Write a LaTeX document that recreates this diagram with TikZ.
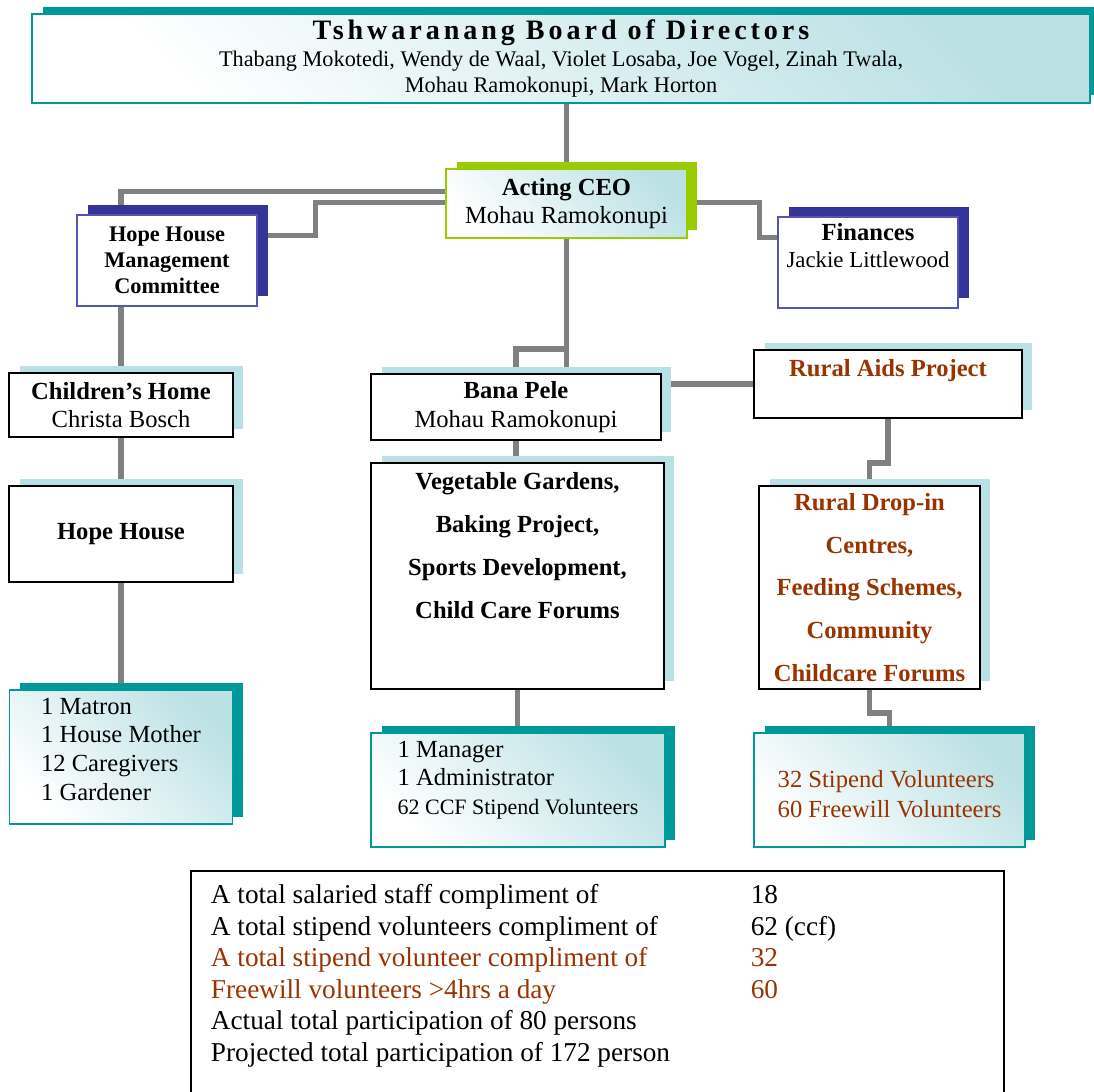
\documentclass[tikz,border=0pt]{standalone}
\usepackage{fontspec}
\setmainfont{Liberation Serif}
\newfontfamily\spacedfont[LetterSpace=14]{Liberation Serif}
\usetikzlibrary{shadows,backgrounds,calc}

\definecolor{tealdark}{RGB}{0,153,153}
\definecolor{tealpale}{RGB}{185,224,228}
\definecolor{gradteal}{RGB}{188,225,229}
\definecolor{navy}{RGB}{51,51,153}
\definecolor{navyline}{RGB}{85,85,175}
\definecolor{lime}{RGB}{153,204,0}
\definecolor{rust}{RGB}{153,51,0}
\definecolor{linkgrey}{RGB}{128,128,128}

% extra depth below the last line, lifts the text inside its box
\newcommand{\padbelow}[1]{\rule[-#1]{0pt}{#1}}

\tikzset{
  box/.style={rectangle, inner sep=0pt, align=center},
  shadowed/.style={drop shadow={shadow xshift=0.21cm, shadow yshift=0.15cm,
      opacity=1, fill=#1}},
  gradfill/.style={top color=gradteal, bottom color=white, shading angle=-45},
  teambox/.style={box, draw=black, line width=1.1pt, fill=white, shadowed=tealpale},
  leadbox/.style={box, draw=navyline, line width=0.9pt, fill=white,
      drop shadow={shadow xshift=0.22cm, shadow yshift=0.2cm, opacity=1, fill=navy}},
  staffbox/.style={box, align=left, draw=tealdark, line width=0.9pt, gradfill,
      shadowed=tealdark},
  ceobox/.style={box, draw=lime, line width=0.9pt, gradfill, shadowed=lime},
  boardbox/.style={box, draw=tealdark, line width=0.9pt, gradfill, shadowed=tealdark},
  sumbox/.style={rectangle, draw=black, line width=1.1pt, inner xsep=0.4cm,
      inner ysep=6.2pt, text depth=112pt},
  link/.style={draw=linkgrey, line width=3pt}
}

\begin{document}
\begin{tikzpicture}[x=0.02cm, y=-0.02cm]
  \useasboundingbox (0,0) rectangle (1094,1091);

  % board and management
  \node[boardbox, minimum width=21.16cm, minimum height=1.78cm,
        font=\fontsize{12.7}{15.3}\selectfont] (board) at (561,58.5)
    {{\spacedfont\bfseries\fontsize{16}{18}\selectfont Tshwaranang Board of Directors}\\
     Thabang Mokotedi, Wendy de Waal, Violet Losaba, Joe Vogel, Zinah Twala,\\
     Mohau Ramokonupi, Mark Horton};
  \node[ceobox, minimum width=4.82cm, minimum height=1.38cm,
        font=\fontsize{14}{16.4}\selectfont] (ceo) at (566.5,203.5)
    {\textbf{Acting CEO}\\ Mohau Ramokonupi};
  \node[leadbox, minimum width=3.6cm, minimum height=1.82cm,
        font=\bfseries\fontsize{12.7}{14.7}\selectfont] (hhmc) at (167,260.5)
    {Hope House\\ Management\\ Committee};
  \node[leadbox, minimum width=3.6cm, minimum height=1.82cm,
        font=\fontsize{13}{15.3}\selectfont] (fin) at (868,262.5)
    {\textbf{\fontsize{14}{15.3}\selectfont Finances}\\ Jackie Littlewood\padbelow{19pt}};

  % children's home column
  \node[teambox, minimum width=4.48cm, minimum height=1.28cm,
        font=\fontsize{14}{16.4}\selectfont] (chome) at (121,405)
    {\textbf{Children's Home}\\ Christa Bosch};
  \node[teambox, minimum width=4.48cm, minimum height=1.92cm,
        font=\bfseries\fontsize{14}{16.4}\selectfont] (hhouse) at (121,534)
    {Hope House};
  \node[staffbox, minimum width=4.46cm, minimum height=2.68cm,
        font=\fontsize{14}{16.3}\selectfont] (hstaff) at (121,757)
    {1 Matron\\ 1 House Mother\\ 12 Caregivers\\ 1 Gardener\padbelow{9pt}};

  % bana pele column
  \node[teambox, minimum width=5.8cm, minimum height=1.32cm,
        font=\fontsize{14}{16.4}\selectfont] (bana) at (516,407)
    {\textbf{Bana Pele}\\ Mohau Ramokonupi};
  \node[teambox, minimum width=5.86cm, minimum height=4.52cm,
        font=\bfseries\fontsize{14}{24.4}\selectfont] (veg) at (517.5,576)
    {Vegetable Gardens,\\ Baking Project,\\ Sports Development,\\ Child Care Forums\padbelow{35pt}};
  \node[staffbox, minimum width=5.88cm, minimum height=2.28cm,
        font=\fontsize{14}{16.4}\selectfont] (bstaff) at (518,790)
    {1 Manager\\ 1 Administrator\\
     {\fontsize{12.5}{16.4}\selectfont 62 CCF Stipend Volunteers}\padbelow{14pt}};

  % rural aids column
  \node[teambox, minimum width=5.36cm, minimum height=1.36cm, text=rust,
        font=\bfseries\fontsize{14}{16.4}\selectfont] (rural) at (888,384)
    {Rural Aids Project\padbelow{18pt}};
  \node[teambox, minimum width=4.42cm, minimum height=4.06cm, text=rust,
        font=\bfseries\fontsize{14}{24.4}\selectfont] (rdrop) at (869.5,587.5)
    {Rural Drop-in\\ Centres,\\ Feeding Schemes,\\ Community\\ Childcare Forums};
  \node[staffbox, minimum width=5.42cm, minimum height=2.28cm, text=rust,
        font=\fontsize{14}{17}\selectfont] (rstaff) at (889.5,790)
    {\rule{0pt}{14pt}32 Stipend Volunteers\\ 60 Freewill Volunteers};

  % totals
  \node[sumbox, anchor=north west, font=\fontsize{15.5}{17.9}\selectfont] (totals) at (190,870)
    {\begin{tabular}[t]{@{}p{10.8cm}@{}p{4.66cm}@{}}
      A total salaried staff compliment of & 18\\
      A total stipend volunteers compliment of & 62 (ccf)\\
      \textcolor{rust}{A total stipend volunteer compliment of} & \textcolor{rust}{32}\\
      \textcolor{rust}{Freewill volunteers >4hrs a day} & \textcolor{rust}{60}\\
      Actual total participation of 80 persons & \\
      Projected total participation of 172 person &
    \end{tabular}};

  % connectors
  \begin{scope}[on background layer]
    \draw[link] (board.south -| ceo.north) -- (ceo.north);
    \draw[link] ($(ceo.north west)+(0,23)$) -| (hhmc.north -| chome.north);
    \draw[link] ($(ceo.north west)+(0,34)$) -- ++(-130,0) |- ($(hhmc.north east)+(0,21)$);
    \draw[link] ($(ceo.north east)+(0,34)$) -- ++(72,0) |- ($(fin.north west)+(0,21)$);
    \draw[link] (hhmc.south -| chome.north) -- (chome.north);
    \draw[link] (chome.south) -- (hhouse.north);
    \draw[link] (hhouse.south) -- (hstaff.north);
    \draw[link] (bana.north) -- ++(0,-24) -| (ceo.south) -- (ceo.south |- bana.north);
    \draw[link] (bana.east |- rural.west) -- (rural.west);
    \draw[link] (bana.south) -- (bana.south |- veg.north);
    \draw[link] (veg.south) -- (veg.south |- bstaff.north);
    \draw[link] (rural.south) -- ++(0,44) -| (rdrop.north);
    \draw[link] (rdrop.south) -- ++(0,23) -| (rstaff.north);
  \end{scope}
\end{tikzpicture}
\end{document}
